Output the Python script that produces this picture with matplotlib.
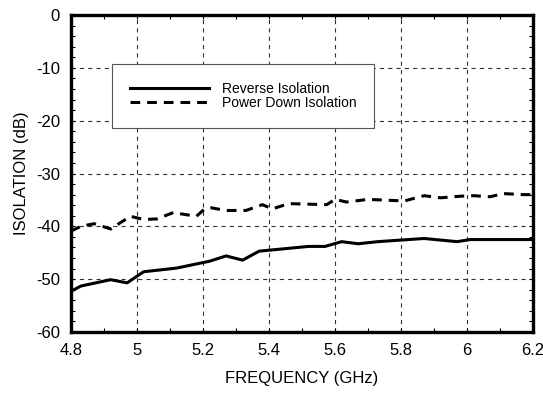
import matplotlib
matplotlib.use("Agg")
import matplotlib.pyplot as plt
from matplotlib.ticker import MultipleLocator

plt.rcParams.update(
    {
        "font.family": ["Liberation Sans", "DejaVu Sans"],
        "font.size": 12,
        "lines.scale_dashes": False,
        "axes.unicode_minus": False,
    }
)

# isolation vs frequency (GHz, dB)
freq_rev = [4.80, 4.83, 4.92, 4.97, 5.02, 5.12, 5.22, 5.27, 5.32, 5.37,
            5.52, 5.57, 5.62, 5.67, 5.73, 5.87, 5.97, 6.01, 6.11, 6.20]
iso_rev = [-52.3, -51.3, -50.1, -50.7, -48.6, -47.9, -46.6, -45.6, -46.4, -44.7,
           -43.8, -43.8, -42.9, -43.3, -42.9, -42.3, -42.9, -42.5, -42.5, -42.5]

freq_pd = [4.80, 4.83, 4.87, 4.92, 4.94, 4.98, 5.02, 5.06, 5.11, 5.18,
           5.205, 5.225, 5.27, 5.33, 5.38, 5.41, 5.46, 5.575, 5.60, 5.635,
           5.70, 5.81, 5.87, 5.92, 5.98, 6.02, 6.07, 6.11, 6.17, 6.20]
iso_pd = [-40.9, -40.0, -39.5, -40.5, -39.7, -38.1, -38.7, -38.6, -37.4, -38.1,
          -36.7, -36.5, -37.0, -37.0, -35.9, -36.7, -35.7, -35.9, -34.9, -35.4,
          -34.9, -35.2, -34.2, -34.6, -34.3, -34.2, -34.4, -33.8, -34.0, -34.0]

labels = ["Reverse Isolation", "Power Down Isolation"]

fig = plt.figure(figsize=(5.43, 3.96), dpi=100)
ax = fig.add_axes([71 / 543, 64 / 396, 462 / 543, 317 / 396])

ax.plot(freq_rev, iso_rev, color="black", lw=2.2, label=labels[0])
ax.plot(freq_pd, iso_pd, color="black", lw=2.2, dashes=(7, 5), label=labels[1])

ax.set_xlim(4.8, 6.2)
ax.set_ylim(-60, 0)
ax.xaxis.set_major_locator(MultipleLocator(0.2))
ax.xaxis.set_minor_locator(MultipleLocator(0.1))
ax.yaxis.set_major_locator(MultipleLocator(10))
ax.yaxis.set_minor_locator(MultipleLocator(2))
ax.set_xticklabels([f"{v:g}" for v in ax.get_xticks()])

ax.grid(True, which="major", color="#333333", lw=0.8, dashes=(3, 3))
ax.tick_params(which="both", direction="in", top=True, right=True, width=0.8)
ax.tick_params(which="major", length=3, pad=8)
ax.tick_params(which="minor", length=3)
for sp in ax.spines.values():
    sp.set_linewidth(2.4)

ax.set_xlabel("FREQUENCY (GHz)", labelpad=9)
ax.set_ylabel("ISOLATION (dB)", labelpad=5)

leg = ax.legend(
    loc="upper left",
    bbox_to_anchor=(0.089, 0.845, 0.567, 0.0),
    mode="expand",
    borderaxespad=0.0,
    fontsize=10,
    handlelength=5.7,
    handletextpad=0.9,
    labelspacing=0.0,
    borderpad=1.3,
    fancybox=False,
    framealpha=1,
)
leg.get_frame().set_edgecolor("#555555")
leg.get_frame().set_linewidth(0.8)

fig.savefig("out.png", dpi=100)
